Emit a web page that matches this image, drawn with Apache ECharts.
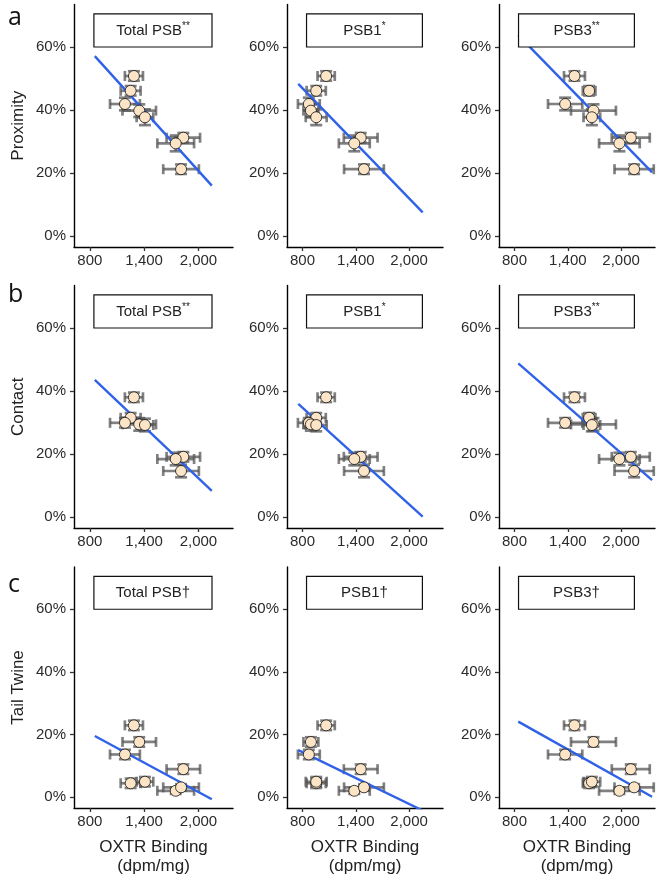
<!DOCTYPE html>
<html>
<head>
<meta charset="utf-8">
<script src="https://cdn.jsdelivr.net/npm/echarts@6/dist/echarts.min.js"></script>
<style>
  html, body { margin: 0; padding: 0; background: #fff; }
  #chart { width: 662px; height: 883px; }
</style>
</head>
<body>
<div id="chart"></div>
<script>
// ---------- DATA ----------
// eight groups (same animals across panels)
const groups = ['G1', 'G2', 'G3', 'G4', 'G5', 'G6', 'G7', 'G8'];

// OXTR binding (dpm/mg) per region (column), mean and SEM
const totalX    = [1287, 1251, 1188, 1346, 1409, 1833, 1749, 1808];
const totalXErr = [100, 110, 165, 185, 92, 185, 203, 197];
const psb1X     = [1066, 954, 871, 894, 954, 1455, 1383, 1492];
const psb1XErr  = [97, 108, 123, 84, 118, 190, 174, 224];
const psb3X     = [1475, 1640, 1370, 1689, 1671, 2109, 1981, 2147];
const psb3XErr  = [118, 71, 193, 253, 94, 214, 229, 221];

// behaviour (% time) per row, mean and SEM
const proxY      = [50.8, 46.1, 41.9, 39.8, 37.7, 31.2, 29.4, 21.2];
const proxYErr   = [1.5, 1.5, 2, 2, 2.5, 1.5, 2.5, 1.5];
const contactY   = [38.0, 31.5, 29.9, 29.4, 29.2, 19.1, 18.4, 14.6];
const contactYErr= [1.5, 1.5, 1.5, 2, 2, 1.5, 2, 2];
const twineY     = [22.9, 4.4, 13.6, 17.6, 4.9, 8.9, 2.0, 3.1];
const twineYErr  = [1.5, 1.5, 1.5, 1.5, 1.5, 1.5, 1, 1];

// regression lines: x extent per column, fitted y at both ends per row/column
const fitStartX = [855, 752, 842];
const fitEndX   = [2148, 2153, 2349];
const proxFit    = [[57.1, 16.0], [48.3, 7.5], [63.8, 20.2]];
const contactFit = [[43.5, 8.3], [35.9, 0.1], [48.8, 11.7]];
const twineFit   = [[19.5, -0.7], [15.0, -4.3], [24.1, 0.1]];

// texts
const rowTitles   = ['Proximity', 'Contact', 'Tail Twine'];
const rowLetters  = ['a', 'b', 'c'];
const colNames    = ['Total PSB', 'PSB1', 'PSB3'];
const sigMarks    = [['**', '*', '**'], ['**', '*', '**'], ['†', '†', '†']];
const xTicks      = [800, 1400, 2000];
const yTicks      = [0, 20, 40, 60];
const xTitle      = 'OXTR Binding\n(dpm/mg)';

// ---------- LAYOUT ----------
const colLeft   = [74, 287, 499];
const colWidth  = [159, 156, 156];
const rowTop    = [4.5, 285.5, 567];
const rowHeight = [242.5, 242.5, 241];
const X_MIN = 625, X_MAX = 2382, Y_MIN = -3.5, Y_MAX = 73.5;
const BOX = { x0: 845, x1: 2150, y0: 60, y1: 70.5 };
const FONT = '"Liberation Sans", Arial, sans-serif';

const colX = [[totalX, totalXErr], [psb1X, psb1XErr], [psb3X, psb3XErr]];
const rowY = [[proxY, proxYErr], [contactY, contactYErr], [twineY, twineYErr]];
const rowFit = [proxFit, contactFit, twineFit];

const grids = [], xAxes = [], yAxes = [], series = [];

function errRender(params, api) {
  const x = api.value(0), y = api.value(1), xe = api.value(2), ye = api.value(3);
  const l = api.coord([x - xe, y]), r = api.coord([x + xe, y]);
  const t = api.coord([x, y + ye]), b = api.coord([x, y - ye]);
  const st = { stroke: 'rgba(85,85,85,0.75)', lineWidth: 2.7, fill: null };
  const cap = 5, vcap = 6;
  const ln = (x1, y1, x2, y2) => ({ type: 'line', shape: { x1, y1, x2, y2 }, style: st });
  return {
    type: 'group',
    children: [
      ln(l[0], l[1], r[0], r[1]),
      ln(l[0], l[1] - cap, l[0], l[1] + cap),
      ln(r[0], r[1] - cap, r[0], r[1] + cap),
      ln(t[0], t[1], b[0], b[1]),
      ln(t[0] - vcap, t[1], t[0] + vcap, t[1]),
      ln(b[0] - vcap, b[1], b[0] + vcap, b[1])
    ]
  };
}

let idx = 0;
for (let r = 0; r < 3; r++) {
  for (let c = 0; c < 3; c++) {
    grids.push({ left: colLeft[c], top: rowTop[r], width: colWidth[c], height: rowHeight[r], containLabel: false });
    xAxes.push({
      gridIndex: idx, type: 'value', min: X_MIN, max: X_MAX,
      splitLine: { show: false },
      axisLine: { onZero: false, lineStyle: { color: '#000', width: 1.4 } },
      axisTick: { customValues: xTicks, length: 4, lineStyle: { color: '#333', width: 1.3 } },
      axisLabel: { customValues: xTicks, margin: 6, fontSize: 15, color: '#2b2b2b', fontFamily: FONT,
                   formatter: v => Number(v).toLocaleString('en-US') },
      name: r === 2 ? xTitle : '', nameLocation: 'middle', nameGap: 30,
      nameTextStyle: { fontSize: 17, color: '#222', fontFamily: FONT, lineHeight: 19 }
    });
    yAxes.push({
      gridIndex: idx, type: 'value', min: Y_MIN, max: Y_MAX,
      splitLine: { show: false },
      axisLine: { onZero: false, lineStyle: { color: '#000', width: 1.4 } },
      axisTick: { customValues: yTicks, length: 4, lineStyle: { color: '#333', width: 1.3 } },
      axisLabel: { customValues: yTicks, margin: 8, fontSize: 15, color: '#2b2b2b', fontFamily: FONT,
                   formatter: v => v + '%' },
      name: c === 0 ? rowTitles[r] : '', nameLocation: 'middle', nameGap: 47,
      nameTextStyle: { fontSize: 17, color: '#222', fontFamily: FONT }
    });

    const xs = colX[c][0], xe = colX[c][1], ys = rowY[r][0], ye = rowY[r][1];
    const pts = groups.map((g, i) => [xs[i], ys[i], xe[i], ye[i]]);

    series.push({
      type: 'custom', xAxisIndex: idx, yAxisIndex: idx, renderItem: errRender,
      data: pts, z: 1, silent: true, encode: { x: 0, y: 1 }
    });
    series.push({
      type: 'line', xAxisIndex: idx, yAxisIndex: idx, z: 2, silent: true,
      data: [[fitStartX[c], rowFit[r][c][0]], [fitEndX[c], rowFit[r][c][1]]],
      showSymbol: false, symbol: 'none', clip: true,
      lineStyle: { color: '#3062E8', width: 2.4 }
    });
    series.push({
      type: 'scatter', xAxisIndex: idx, yAxisIndex: idx, z: 3, silent: true,
      data: pts.map(p => [p[0], p[1]]),
      symbolSize: 11,
      itemStyle: { color: '#FCE5C6', borderColor: '#111', borderWidth: 0.8, opacity: 1 }
    });
    const mainText = colNames[c];
    const sig = sigMarks[r][c];
    series.push({
      type: 'custom', xAxisIndex: idx, yAxisIndex: idx, z: 5, silent: true,
      data: [[0]],
      renderItem: (params, api) => {
        const p0 = api.coord([BOX.x0, BOX.y1]);
        const p1 = api.coord([BOX.x1, BOX.y0]);
        const isDagger = sig === '†';
        const text = isDagger ? '{m|' + mainText + sig + '}' : '{m|' + mainText + '}{s|' + sig + '}';
        return {
          type: 'group',
          children: [
            { type: 'rect', shape: { x: p0[0], y: p0[1], width: p1[0] - p0[0], height: p1[1] - p0[1] },
              style: { fill: '#fff', stroke: '#111', lineWidth: 1.2 } },
            { type: 'text', x: (p0[0] + p1[0]) / 2, y: (p0[1] + p1[1]) / 2,
              style: { text: text, align: 'center', verticalAlign: 'middle',
                rich: {
                  m: { fontSize: 15, fontFamily: FONT, fill: '#222', color: '#222', lineHeight: 18 },
                  s: { fontSize: 10, fontFamily: FONT, fill: '#222', color: '#222', lineHeight: 18, verticalAlign: 'top' }
                } } }
          ]
        };
      }
    });
    idx++;
  }
}

const letterTops = [18, 295, 585];
const graphics = rowLetters.map((t, i) => ({
  type: 'text', left: 8, top: letterTops[i] - 13,
  style: { text: t, fontSize: 25, fontFamily: '"Open Sans", "Liberation Sans", sans-serif', fill: '#111' }
}));

const chart = echarts.init(document.getElementById('chart'), null, { renderer: 'canvas' });
chart.setOption({
  animation: false,
  backgroundColor: '#fff',
  grid: grids,
  xAxis: xAxes,
  yAxis: yAxes,
  series: series,
  graphic: graphics
});
</script>
</body>
</html>
